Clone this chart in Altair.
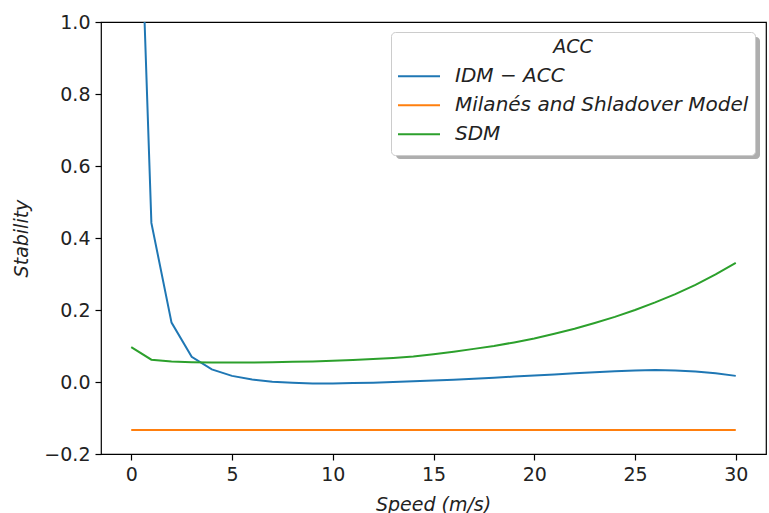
import altair as alt
import pandas as pd

speed = list(range(0, 31))
idm_acc = [2.1, 0.442, 0.165, 0.070, 0.035, 0.017, 0.007, 0.001, -0.002, -0.004,
           -0.004, -0.003, -0.002, 0.000, 0.002, 0.004, 0.006, 0.009, 0.012, 0.015,
           0.018, 0.021, 0.024, 0.027, 0.030, 0.032, 0.033, 0.032, 0.029, 0.024, 0.017]
milanes = [-0.133] * 31
sdm = [0.097, 0.062, 0.057, 0.055, 0.054, 0.054, 0.054, 0.055, 0.056, 0.057,
       0.059, 0.061, 0.064, 0.067, 0.071, 0.077, 0.084, 0.092, 0.100, 0.110,
       0.121, 0.134, 0.148, 0.164, 0.181, 0.200, 0.221, 0.244, 0.270, 0.299, 0.331]

series_names = ["IDM − ACC", "Milanés and Shladover Model", "SDM"]
series_colors = ["#1f77b4", "#ff7f0e", "#2ca02c"]
x_ticks = [0, 5, 10, 15, 20, 25, 30]
y_ticks = [-0.2, 0.0, 0.2, 0.4, 0.6, 0.8, 1.0]

rows = []
for name, vals in zip(series_names, [idm_acc, milanes, sdm]):
    for s, v in zip(speed, vals):
        rows.append({"Speed": s, "Stability": v, "Model": name})
df = pd.DataFrame(rows)

FONT = "DejaVu Sans"

lines = alt.Chart(df).mark_line(strokeWidth=2, clip=True).encode(
    x=alt.X("Speed:Q",
            scale=alt.Scale(domain=[-1.5, 31.5], nice=False, zero=False),
            axis=alt.Axis(title="Speed (m/s)", values=x_ticks, format="d",
                          titleX=332, titleY=56, titleBaseline="alphabetic",
                          titleAnchor="middle")),
    y=alt.Y("Stability:Q",
            scale=alt.Scale(domain=[-0.2, 1.0], nice=False, zero=False),
            axis=alt.Axis(title="Stability", values=y_ticks, format=".1f",
                          titleX=-74, titleY=216, titleBaseline="alphabetic",
                          titleAngle=-90, titleAnchor="middle")),
    color=alt.Color("Model:N",
                    scale=alt.Scale(domain=series_names, range=series_colors),
                    legend=alt.Legend(title="ACC", orient="none", legendX=290, legendY=10,
                                      symbolType="stroke", symbolSize=1764,
                                      symbolStrokeWidth=2, labelOffset=14,
                                      titleAnchor="middle", titleAlign="center",
                                      padding=6, rowPadding=0, titlePadding=5,
                                      clipHeight=28.5,
                                      fillColor="white", strokeColor="#cccccc",
                                      cornerRadius=4)),
)

# legend drop shadow (decoration)
shadow = alt.Chart(pd.DataFrame({"a": [0]})).mark_rect(
    color="#9a9a9a", opacity=0.8, cornerRadius=4
).encode(
    x=alt.value(295), x2=alt.value(659), y=alt.value(15), y2=alt.value(137)
)

chart = alt.layer(shadow, lines).properties(
    width=665, height=432,
    autosize=alt.AutoSizeParams(type="none"),
    padding={"left": 101, "top": 22, "right": 3, "bottom": 59},
).configure_view(
    stroke="black", strokeWidth=1.2
).configure_axis(
    labelFont=FONT, titleFont=FONT, labelFontSize=19, titleFontSize=19,
    titleFontStyle="italic", titleFontWeight="normal",
    labelColor="#222222", titleColor="#222222",
    domain=False, grid=False, tickColor="black", tickSize=6, tickWidth=1.2,
    labelPadding=5,
).configure_legend(
    labelFont=FONT, titleFont=FONT, labelFontSize=20, titleFontSize=19,
    labelFontStyle="italic", titleFontStyle="italic", titleFontWeight="normal",
    labelColor="#222222", titleColor="#222222", labelLimit=400,
)

chart.save("out.html", embed_options={"renderer": "svg", "actions": False})
